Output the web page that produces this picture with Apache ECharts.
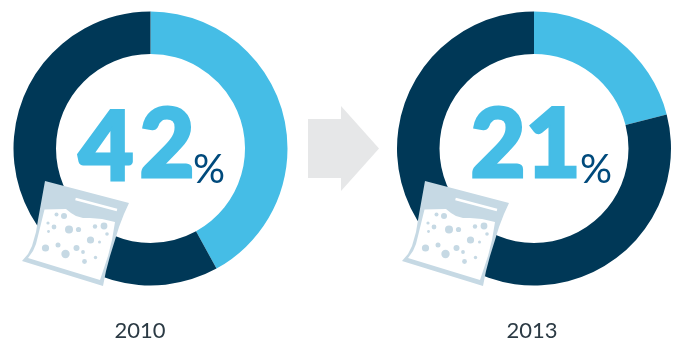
<!DOCTYPE html>
<html>
<head>
<meta charset="utf-8">
<style>html,body{margin:0;padding:0;background:#fff}#c{width:677px;height:342px}</style>
<script src="https://cdn.jsdelivr.net/npm/echarts@6/dist/echarts.min.js"></script>
</head>
<body>
<div id="c"></div>
<script>
// Share of the total per year; the remainder completes each ring.
const years = ['2010', '2013'];
const shares = [42, 21];
const rest = [58, 79];

const SKY = '#45bde6', NAVY = '#003857', BAG = '#c6d9e4', GREY = '#e6e7e8', PCT = '#004a7c';
const centersX = [150.5, 534];
const CY = 148.5;
const bagOffsets = [0, 380];

const chart = echarts.init(document.getElementById('c'), null, {renderer: 'canvas'});

// Bag illustration, shared by both rings.
const bagOutline = [[45,181],[129,203],[124,214],[119,227],[115,240],[110,256],[106,271],[103,286],[22,261],[28,254],[32,246],[36,232],[38,220]];
const bagWindow = [[44.5,209.5],[66,209],[71,213],[76,216],[83,218],[90,218],[102,219],[115,222],[112,240],[108,256],[104,268],[100,280],[28,258],[33,251],[36,244],[38,236]];
const bagDots = [
  [56.5,214.5,2],[64,216,3],[48,223,1.6],[54,227,2.4],[69,229.5,4],[78.5,229.5,2.6],
  [95,226.5,2.2],[104,226,3.4],[107,234,1.8],[48.5,231.5,1.4],[90.5,240,3.6],[99.5,242,1.5],
  [45.5,248,3.6],[58,245,2.5],[76.5,248,3],[83,252,1.9],[65.5,254,4.2],[95.5,257.5,1.7],[84.5,261.5,2.4]
];

function bag(dx) {
  return {
    type: 'group', x: dx, y: 0, z: 10,
    children: [
      {type: 'polygon', z: 10, shape: {points: bagOutline}, style: {fill: BAG}},
      {type: 'polygon', z: 11, shape: {points: bagWindow}, style: {fill: '#fff'}},
      {type: 'line', z: 12, shape: {x1: 75.5, y1: 199, x2: 117, y2: 210}, style: {stroke: '#fff', lineWidth: 2.4}}
    ].concat(bagDots.map(d => ({
      type: 'circle', z: 12, shape: {cx: d[0], cy: d[1], r: d[2]}, style: {fill: BAG}
    })))
  };
}

function ring(i) {
  return {
    type: 'pie',
    center: [centersX[i], CY],
    radius: [94.5, 137],
    startAngle: 90,
    clockwise: true,
    silent: true,
    label: {show: false},
    labelLine: {show: false},
    data: [
      {value: shares[i], itemStyle: {color: SKY}},
      {value: rest[i], itemStyle: {color: NAVY}}
    ]
  };
}

function txt(x, y, text, size, weight, color) {
  return {
    type: 'text', x, y, z: 5,
    style: {text, fontFamily: 'Lato', fontSize: size, fontWeight: weight, fill: color, textAlign: 'center', textVerticalAlign: 'middle'}
  };
}

// Big numerals are set one digit at a time so each sits at its own height.
function digit(x, y, ch) {
  const t = txt(x, y, ch, 95, 900, SKY);
  t.style.stroke = SKY;
  t.style.lineWidth = 3;
  t.style.lineJoin = 'miter';
  return t;
}

const d0 = String(shares[0]), d1 = String(shares[1]);

chart.setOption({
  animation: false,
  backgroundColor: '#fff',
  series: [ring(0), ring(1)],
  graphic: {
    elements: [
      {type: 'polygon', shape: {points: [[308,119],[341,119],[341,106],[379,148.5],[341,191],[341,178],[308,178]]}, style: {fill: GREY}},
      digit(106, 149, d0[0]),
      digit(167, 146, d0[1]),
      txt(209, 170, '%', 40, 400, PCT),
      digit(498, 146, d1[0]),
      digit(553, 146, d1[1]),
      txt(596, 170, '%', 40, 400, PCT),
      txt(140, 331, years[0], 22, 400, '#2b3a44'),
      txt(532, 331, years[1], 22, 400, '#2b3a44'),
      bag(bagOffsets[0]),
      bag(bagOffsets[1])
    ]
  }
});
</script>
</body>
</html>
